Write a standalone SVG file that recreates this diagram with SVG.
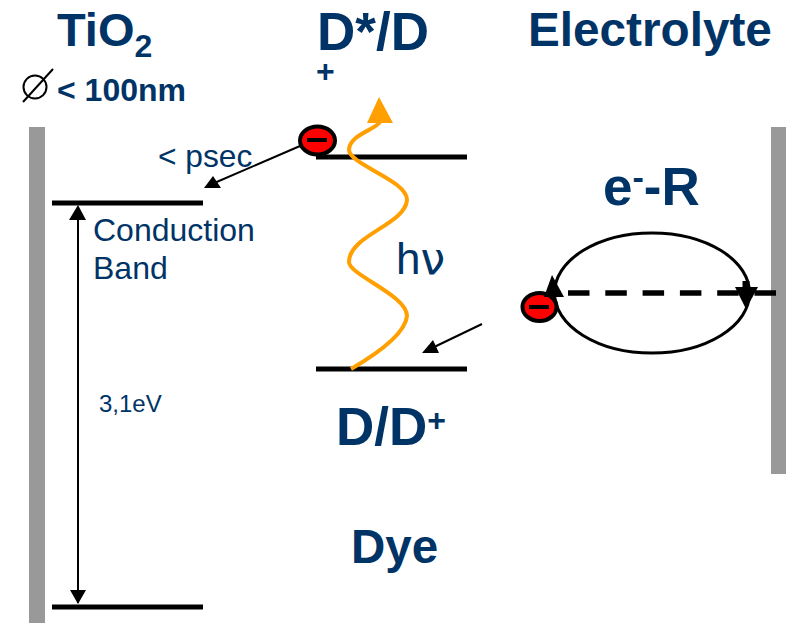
<svg xmlns="http://www.w3.org/2000/svg" width="786" height="623" viewBox="0 0 786 623">
<style>
text{font-family:"Liberation Sans",Arial,sans-serif;fill:#003366}
.b{font-weight:700}
.lvl{stroke:#000;stroke-width:5;fill:none}
.thin{stroke:#000;stroke-width:2;fill:none}
.el{fill:#f00;stroke:#000;stroke-width:4}
.minus{stroke:#000;stroke-width:4}
</style>
<rect width="786" height="623" fill="#fff"/>
<g id="tio2-wall"><rect x="29" y="127" width="16" height="496" fill="#999"/></g>
<g id="electrolyte-wall"><rect x="771" y="127" width="15" height="347" fill="#999"/></g>
<g id="titles">
<text class="b" x="57" y="46" font-size="47">TiO<tspan font-size="32" dy="11">2</tspan></text>
<text class="b" x="57" y="101" font-size="32">&lt; 100nm</text>
<text class="b" x="317" y="50" font-size="53">D*/D</text>
<text class="b" x="316" y="82" font-size="32">+</text>
<text class="b" x="528" y="46" font-size="47.7">Electrolyte</text>
<text class="b" x="603" y="205" font-size="53">e<tspan font-size="34" dy="-16">-</tspan><tspan dy="16">-R</tspan></text>
<text class="b" x="336" y="445" font-size="53">D/D<tspan font-size="32" dy="-14">+</tspan></text>
<text class="b" x="351" y="563" font-size="47.5">Dye</text>
<text x="158" y="167" font-size="31.7">&lt; psec</text>
<text x="93" y="241" font-size="32">Conduction</text>
<text x="93" y="279" font-size="32">Band</text>
<text x="99" y="412" font-size="24">3,1eV</text>
<text x="396" y="274" font-size="44">h<tspan font-family="'DejaVu Sans',sans-serif">ν</tspan></text>
</g>
<g id="diameter-symbol"><circle cx="35" cy="87" r="11.5" fill="none" stroke="#000" stroke-width="2"/><path d="M23 102L53 69" class="thin"/></g>
<g id="levels">
<path class="lvl" d="M52 203H203M52 607H203M316 157H467M316 369H467"/>
</g>
<g id="connectors">
<path class="thin" d="M78 207V603"/>
<path d="M78 205L69 220H86Z M78 604L70 590H86Z" fill="#000"/>
<path class="thin" d="M300 146L212 184"/>
<path d="M204 188H221L213 176Z" fill="#000"/>
<path class="thin" d="M482 324L430 349"/>
<path d="M422 353H439L433 340Z" fill="#000"/>
<path d="M351 369C375 355 405 335 407 316C407 295 349 275 349 262C349 235 405 225 407 200C407 180 350 165 349 150C349 135 375 130 380 122" fill="none" stroke="#ffa000" stroke-width="4"/>
<path d="M379 97L367 123H393Z" fill="#ffa000"/>
<ellipse cx="652" cy="293" rx="97.500" ry="60" fill="none" stroke="#000" stroke-width="3"/>
<path d="M568 293H776" stroke="#000" stroke-width="5.500" stroke-dasharray="21.500 15.800" fill="none"/>
<path d="M746 281V300" stroke="#000" stroke-width="7" fill="none"/>
<path d="M746 309L735 287H758Z" fill="#000"/>
</g>
<g id="electron-top"><ellipse cx="317.500" cy="140.500" rx="17.500" ry="14" class="el"/><path class="minus" d="M307 140H327"/></g>
<g id="electron-bottom"><ellipse cx="539.500" cy="307" rx="17" ry="14" class="el"/><path class="minus" d="M529 307H549"/></g>
<path d="M552 275L544 297H564Z" fill="#000"/>
</svg>
